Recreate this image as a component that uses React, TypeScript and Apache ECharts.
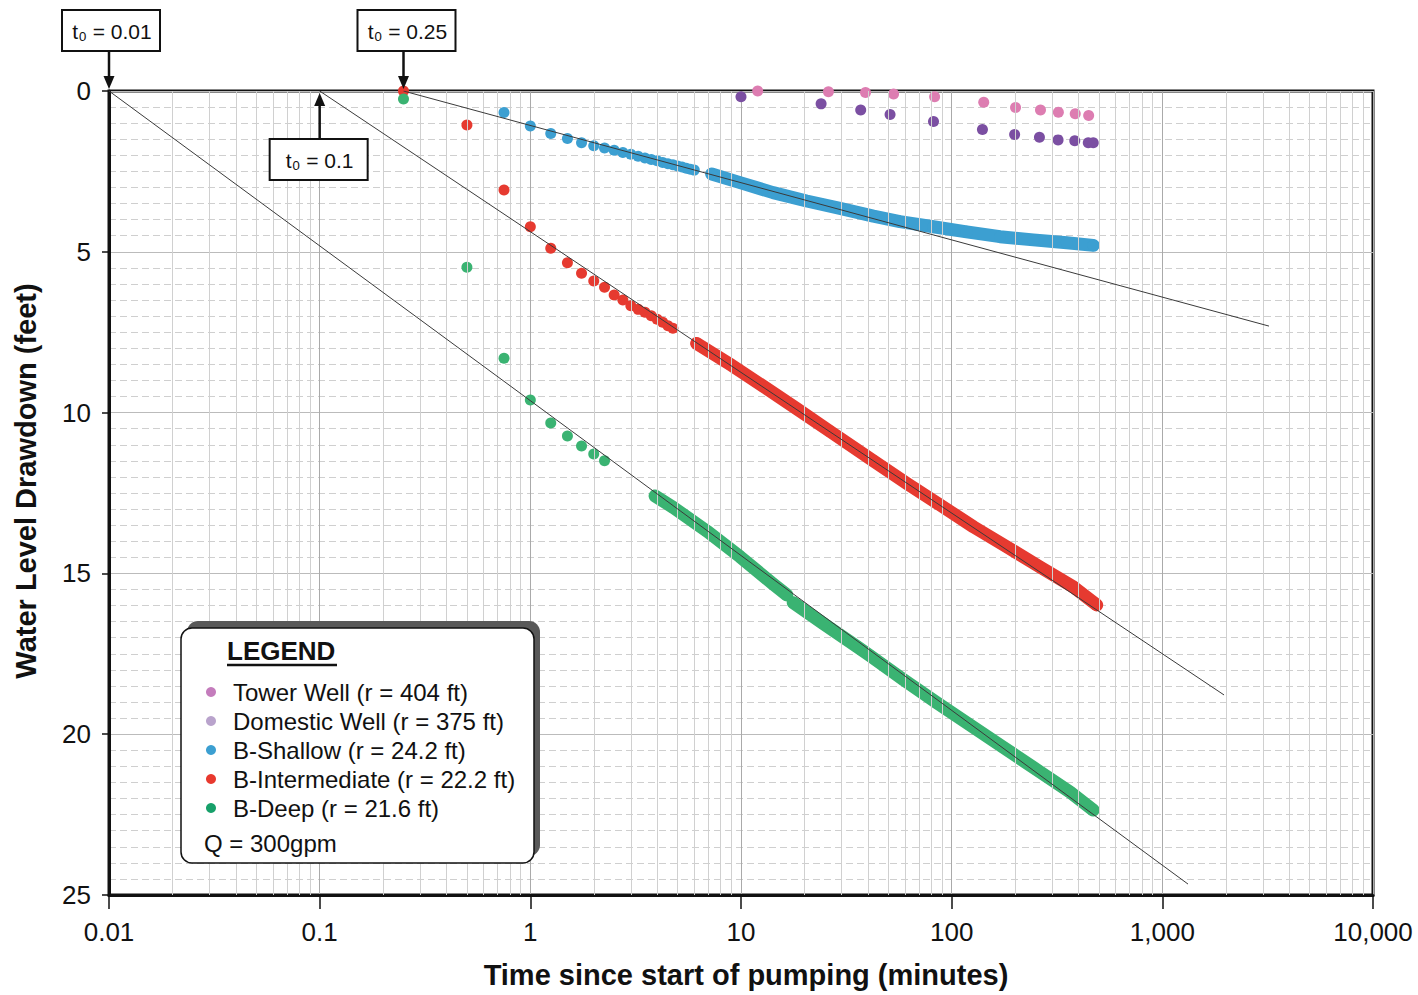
import React, { useEffect, useRef } from 'react';
import * as echarts from 'echarts';

const FONT = '"Liberation Sans", Arial, Helvetica, sans-serif';

// ---- axis tick labels ----
const xTickLabels = ['0.01', '0.1', '1', '10', '100', '1,000', '10,000'];
const yTickLabels = ['0', '5', '10', '15', '20', '25'];

// ---- legend ----
const seriesNames = [
  'Tower Well (r = 404 ft)',
  'Domestic Well (r = 375 ft)',
  'B-Shallow (r = 24.2 ft)',
  'B-Intermediate (r = 22.2 ft)',
  'B-Deep (r = 21.6 ft)',
];
const plotColors = ['#dd7db1', '#7b4fa2', '#3c9fd1', '#e63a30', '#3ab372'];
const legendDotColors = ['#c47cbc', '#b9a3cc', '#3c9fd1', '#e8392e', '#17a06a'];

// ---- Tower Well ----
const towerT = [12, 26, 39, 53, 83, 142, 201, 264, 321, 386, 447];
const towerDD = [0.0, 0.02, 0.05, 0.09, 0.18, 0.35, 0.51, 0.59, 0.66, 0.71, 0.76];

// ---- Domestic Well ----
const domesticT = [10, 24, 37, 51, 82, 140, 199, 261, 320, 384, 445, 470];
const domesticDD = [0.18, 0.4, 0.59, 0.73, 0.95, 1.2, 1.35, 1.44, 1.52, 1.55, 1.61, 1.61];

// ---- B-Shallow ----
const shallowT = [0.75, 1, 1.25, 1.5, 1.75, 2, 2.25, 2.5, 2.75, 3, 3.25, 3.5, 3.75, 4, 4.25, 4.5, 4.75, 5, 5.25, 5.5, 5.75, 6];
const shallowDD = [0.67, 1.09, 1.32, 1.48, 1.61, 1.7, 1.77, 1.84, 1.91, 1.97, 2.03, 2.08, 2.13, 2.17, 2.22, 2.26, 2.29, 2.33, 2.36, 2.4, 2.43, 2.46];
const shallowBandT = [7.26, 9.9, 14.2, 20.5, 29.5, 42.5, 56.8, 81.8, 117.8, 169.6, 244, 351.6, 470];
const shallowBandDD = [2.58, 2.85, 3.16, 3.42, 3.65, 3.89, 4.06, 4.22, 4.38, 4.53, 4.63, 4.72, 4.8];

// ---- B-Intermediate ----
const interT = [0.25, 0.5, 0.75, 1, 1.25, 1.5, 1.75, 2, 2.25, 2.5, 2.75, 3, 3.25, 3.5, 3.75, 4, 4.25, 4.5, 4.75];
const interDD = [0, 1.06, 3.08, 4.22, 4.89, 5.34, 5.67, 5.91, 6.1, 6.34, 6.5, 6.68, 6.79, 6.88, 6.99, 7.1, 7.19, 7.3, 7.38];
const interBandT = [6.16, 8.87, 12.76, 18.4, 26.4, 42.5, 61.2, 88, 126.7, 182.5, 262.6, 377.8, 488];
const interBandDD = [7.85, 8.5, 9.18, 9.88, 10.58, 11.5, 12.2, 12.87, 13.55, 14.17, 14.8, 15.42, 15.98];

// ---- B-Deep ----
const deepT = [0.25, 0.5, 0.75, 1, 1.25, 1.5, 1.75, 2, 2.25];
const deepDD = [0.25, 5.48, 8.31, 9.61, 10.32, 10.73, 11.04, 11.29, 11.5];
const deepBand1T = [3.91, 4.77, 6.87, 9.89, 14.2, 16.5];
const deepBand1DD = [12.59, 12.95, 13.68, 14.48, 15.33, 15.67];
const deepBand2T = [17.7, 24.6, 35.4, 41, 58.9, 84.9, 122, 176, 253, 365, 470];
const deepBand2DD = [15.91, 16.56, 17.27, 17.56, 18.3, 19.02, 19.71, 20.41, 21.1, 21.8, 22.36];

// ---- Cooper-Jacob straight-line fits ----
const fitAT = [0.01, 1324];
const fitADD = [0, 24.66];
const fitBT = [0.1, 1963];
const fitBDD = [0, 18.78];
const fitCT = [0.25, 3208];
const fitCDD = [0, 7.31];

// ---- annotations ----
const t0Values = [0.01, 0.25, 0.1];
const t0Labels = ['t\u2080 = 0.01', 't\u2080 = 0.25', 't\u2080 = 0.1'];

const zip = (t: number[], d: number[]) => t.map((v, i) => [v, d[i]]);

const minorXs: number[] = [];
for (let k = -2; k <= 3; k++) {
  for (let m = 2; m <= 9; m++) minorXs.push(m * Math.pow(10, k));
}

export default function App() {
  const ref = useRef<HTMLDivElement>(null);

  useEffect(() => {
    const chart = echarts.init(ref.current!, null, { renderer: 'svg' });

    const scatter = (name: string, color: string, data: number[][]) => ({
      name,
      type: 'scatter',
      data,
      symbol: 'circle',
      symbolSize: 11,
      clip: false,
      itemStyle: { color, opacity: 1 },
      z: 3,
    });
    const band = (name: string, color: string, data: number[][]) => ({
      name,
      type: 'line',
      data,
      showSymbol: true,
      symbol: 'circle',
      symbolSize: 12,
      clip: false,
      itemStyle: { color },
      lineStyle: { color, width: 13, cap: 'round', join: 'round' },
      z: 3,
    });
    const fit = (data: number[][]) => ({
      name: 'fit',
      type: 'line',
      data,
      showSymbol: false,
      symbol: 'none',
      silent: true,
      lineStyle: { color: '#3a3a3a', width: 1 },
      z: 5,
    });

    const option: any = {
      animation: false,
      backgroundColor: '#ffffff',
      textStyle: { fontFamily: FONT },
      grid: {
        left: 109,
        right: 45,
        top: 91,
        bottom: 100,
        show: true,
        borderColor: '#111',
        borderWidth: 3,
        backgroundColor: 'transparent',
      },
      legend: {
        show: true,
        orient: 'vertical',
        left: 201,
        top: 675,
        z: 7,
        itemWidth: 10,
        itemHeight: 10,
        itemGap: 5,
        selectedMode: false,
        textStyle: { fontSize: 24, color: '#111', fontFamily: FONT, padding: [0, 0, 0, 12] },
        data: seriesNames.map((n, i) => ({ name: n, icon: 'circle', itemStyle: { color: legendDotColors[i] } })),
      },
      xAxis: {
        type: 'log',
        logBase: 10,
        min: 0.01,
        max: 10000,
        splitNumber: 6,
        axisLine: { show: true, onZero: false, lineStyle: { color: '#111', width: 3 } },
        axisTick: { show: true, length: 14, lineStyle: { color: '#111', width: 1.5 } },
        axisLabel: {
          fontSize: 26,
          color: '#111',
          fontFamily: FONT,
          margin: 24,
          formatter: (v: number) => xTickLabels[Math.round(Math.log10(v)) + 2] ?? '',
        },
        splitLine: { show: true, lineStyle: { color: '#aaaaaa', width: 1 } },
        name: 'Time since start of pumping (minutes)',
        nameLocation: 'middle',
        nameGap: 65,
        nameTextStyle: { fontSize: 29, fontWeight: 'bold', color: '#111', fontFamily: FONT, padding: [0, 0, 0, 10] },
      },
      yAxis: {
        type: 'value',
        inverse: true,
        min: 0,
        max: 25,
        interval: 5,
        axisLine: { show: true, onZero: false, lineStyle: { color: '#111', width: 3 } },
        axisTick: { show: true, length: 7, lineStyle: { color: '#111', width: 1.5 } },
        axisLabel: {
          fontSize: 26,
          color: '#111',
          fontFamily: FONT,
          margin: 18,
          formatter: (v: number) => yTickLabels[Math.round(v / 5)] ?? '',
        },
        splitLine: { show: true, lineStyle: { color: '#bbbbbb', width: 1 } },
        minorTick: { show: false, splitNumber: 10 },
        minorSplitLine: { show: true, lineStyle: { color: '#cfcfcf', width: 1, type: [7, 4] } },
        name: 'Water Level Drawdown (feet)',
        nameLocation: 'middle',
        nameGap: 69,
        nameRotate: 90,
        nameTextStyle: { fontSize: 29, fontWeight: 'bold', color: '#111', fontFamily: FONT, padding: [0, 0, 0, 24] },
      },
      series: [
        {
          name: 'minor-grid',
          type: 'line',
          data: [],
          silent: true,
          z: 1,
          markLine: {
            silent: true,
            symbol: 'none',
            label: { show: false },
            animation: false,
            lineStyle: { color: '#d0d0d0', width: 1, type: 'solid' },
            data: minorXs.map((v) => ({ xAxis: v })),
          },
        },
        scatter(seriesNames[0], plotColors[0], zip(towerT, towerDD)),
        scatter(seriesNames[1], plotColors[1], zip(domesticT, domesticDD)),
        scatter(seriesNames[2], plotColors[2], zip(shallowT, shallowDD)),
        band(seriesNames[2], plotColors[2], zip(shallowBandT, shallowBandDD)),
        scatter(seriesNames[3], plotColors[3], zip(interT, interDD)),
        band(seriesNames[3], plotColors[3], zip(interBandT, interBandDD)),
        scatter(seriesNames[4], plotColors[4], zip(deepT, deepDD)),
        band(seriesNames[4], plotColors[4], zip(deepBand1T, deepBand1DD)),
        band(seriesNames[4], plotColors[4], zip(deepBand2T, deepBand2DD)),
        fit(zip(fitAT, fitADD)),
        fit(zip(fitBT, fitBDD)),
        fit(zip(fitCT, fitCDD)),
      ],
    };

    chart.setOption(option);

    // annotation boxes with arrows, anchored to axis positions
    const tips = t0Values.map((t) => chart.convertToPixel({ gridIndex: 0 }, [t, 0]) as number[]);
    const graphics: any[] = [];
    const boxW = 98;
    const boxH = 41;
    const annot = (i: number, above: boolean, dx: number) => {
      const [tx, ty] = tips[i];
      const left = tx + dx;
      const top = above ? ty - 81 : ty + 48;
      graphics.push({
        type: 'rect',
        shape: { x: left, y: top, width: boxW, height: boxH },
        style: { fill: '#fff', stroke: '#111', lineWidth: 2 },
        z: 10,
      });
      graphics.push({
        type: 'text',
        x: left + boxW / 2 + 1,
        y: top + boxH / 2 + 1,
        style: { text: t0Labels[i], fontSize: 21, fill: '#111', fontFamily: FONT, align: 'center', verticalAlign: 'middle' },
        z: 11,
      });
      if (above) {
        graphics.push({ type: 'line', shape: { x1: tx, y1: top + boxH, x2: tx, y2: ty - 12 }, style: { stroke: '#111', lineWidth: 2.5 }, z: 10 });
        graphics.push({ type: 'polygon', shape: { points: [[tx - 5.5, ty - 15], [tx + 5.5, ty - 15], [tx, ty - 2]] }, style: { fill: '#111' }, z: 10 });
      } else {
        graphics.push({ type: 'line', shape: { x1: tx, y1: top, x2: tx, y2: ty + 12 }, style: { stroke: '#111', lineWidth: 2.5 }, z: 10 });
        graphics.push({ type: 'polygon', shape: { points: [[tx - 5.5, ty + 15], [tx + 5.5, ty + 15], [tx, ty + 2]] }, style: { fill: '#111' }, z: 10 });
      }
    };
    annot(0, true, -47);
    annot(1, true, -46);
    annot(2, false, -50);

    // legend frame
    graphics.push({
      type: 'rect',
      shape: { x: 187, y: 621, width: 353, height: 235, r: 11 },
      style: { fill: '#595959' },
      z: 5,
    });
    graphics.push({
      type: 'rect',
      shape: { x: 181, y: 628, width: 353, height: 235, r: 11 },
      style: { fill: '#fff', stroke: '#111', lineWidth: 1.5 },
      z: 6,
    });
    graphics.push({
      type: 'text',
      x: 227,
      y: 651,
      style: { text: 'LEGEND', fontSize: 26, fontWeight: 'bold', fill: '#111', fontFamily: FONT, verticalAlign: 'middle' },
      z: 7,
    });
    graphics.push({ type: 'line', shape: { x1: 227, y1: 665, x2: 337, y2: 665 }, style: { stroke: '#111', lineWidth: 2.5 }, z: 7 });
    graphics.push({
      type: 'text',
      x: 204,
      y: 843,
      style: { text: 'Q = 300gpm', fontSize: 24, fill: '#111', fontFamily: FONT, verticalAlign: 'middle' },
      z: 7,
    });

    chart.setOption({ graphic: graphics });

    return () => chart.dispose();
  }, []);

  return (
    <div
      ref={ref}
      style={{ position: 'fixed', left: 0, top: 0, width: 1418, height: 995, background: '#fff' }}
    />
  );
}
